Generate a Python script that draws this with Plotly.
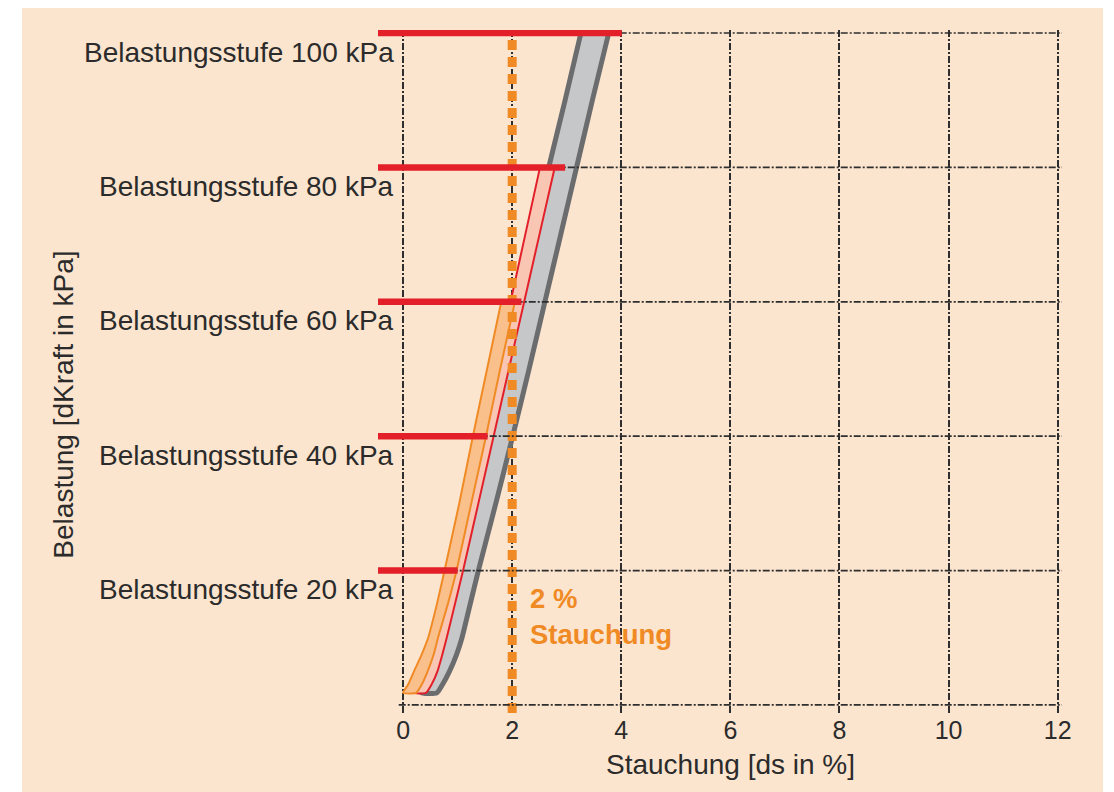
import plotly.graph_objects as go

# ---- data ----
load_levels = [1.8, 3, 5, 7.5, 10, 15, 20, 30, 40, 50, 60, 70, 80, 90, 100]
gray_left  = [0.34, 0.44, 0.56, 0.66, 0.74, 0.86, 0.98, 1.26, 1.55, 1.83, 2.10, 2.39, 2.67, 2.97, 3.26]
gray_right = [0.62, 0.72, 0.85, 0.98, 1.08, 1.23, 1.38, 1.70, 2.01, 2.31, 2.60, 2.89, 3.18, 3.47, 3.77]

red_levels = [1.8, 3, 5, 7.5, 10, 15, 20, 30, 40, 50, 60, 70, 80]
red_left   = [0.18, 0.28, 0.40, 0.50, 0.58, 0.74, 0.88, 1.15, 1.42, 1.70, 1.97, 2.24, 2.51]
red_right  = [0.42, 0.52, 0.63, 0.72, 0.80, 0.95, 1.10, 1.38, 1.66, 1.94, 2.22, 2.50, 2.78]

orange_levels = [1.8, 3, 5, 7.5, 10, 15, 20, 30, 40, 50, 60]
orange_left   = [0.00, 0.09, 0.20, 0.34, 0.46, 0.62, 0.76, 1.03, 1.28, 1.54, 1.80]
orange_right  = [0.24, 0.34, 0.45, 0.56, 0.64, 0.82, 0.98, 1.25, 1.52, 1.78, 2.05]

stufen = [20, 40, 60, 80, 100]                 # Belastungsstufen in kPa
stufen_labels = ["Belastungsstufe 20 kPa", "Belastungsstufe 40 kPa",
                 "Belastungsstufe 60 kPa", "Belastungsstufe 80 kPa",
                 "Belastungsstufe 100 kPa"]
stufen_bar_end = [1.0, 1.55, 2.17, 2.97, 4.01]  # x where the red marker bars end
bar_start = -0.46

x_ticks = [0, 2, 4, 6, 8, 10, 12]
y_grid = [0, 20, 40, 60, 80, 100]
limit_strain = 2.0

PEACH = "#FCE5CF"
GRID = "#2e2e2e"
GRID_DASH = "7px,2px,2px,2px"
TXT = "#2b2b2b"
FONT = "Liberation Sans, Arial, sans-serif"
ORANGE = "#F08A24"
RED = "#E3202A"

fig = go.Figure()

def band(levels, left, right, fill, line, width):
    # filled area
    xs = list(left) + list(reversed(right)) + [left[0]]
    ys = list(levels) + list(reversed(levels)) + [levels[0]]
    fig.add_trace(go.Scatter(x=xs, y=ys, mode="lines", fill="toself",
                             fillcolor=fill, line=dict(width=0),
                             hoverinfo="skip", showlegend=False))
    # outline: left edge down, along the bottom, right edge up (top stays open)
    ox = list(reversed(left)) + list(right)
    oy = list(reversed(levels)) + list(levels)
    fig.add_trace(go.Scatter(x=ox, y=oy, mode="lines",
                             line=dict(color=line, width=width, shape="spline", smoothing=0.5),
                             hoverinfo="skip", showlegend=False))

band(load_levels, gray_left, gray_right, "#C6C7C9", "#6B6C6E", 5)
band(red_levels, red_left, red_right, "#F8C6B3", RED, 2)
band(orange_levels, orange_left, orange_right, "#F9C08C", ORANGE, 2)

# 2 % limit line
fig.add_trace(go.Scatter(x=[limit_strain, limit_strain], y=[-1.2, 99.0], mode="lines",
                         line=dict(color=ORANGE, width=9, dash="10px,7px"),
                         hoverinfo="skip", showlegend=False))

shapes = []
# peach background card
shapes.append(dict(type="rect", xref="paper", yref="paper",
                   x0=-0.5205, x1=1.06, y0=-0.1157, y1=1.035,
                   fillcolor=PEACH, line=dict(width=0), layer="below"))
# horizontal grid
for g in y_grid:
    shapes.append(dict(type="line", xref="x", yref="y", x0=-0.08, x1=12.08, y0=g, y1=g,
                       line=dict(color=GRID, width=1.7, dash=GRID_DASH), layer="above"))
# red Belastungsstufe bars
for s, e in zip(stufen, stufen_bar_end):
    shapes.append(dict(type="line", xref="x", yref="y", x0=bar_start, x1=e, y0=s, y1=s,
                       line=dict(color=RED, width=6.5), layer="above"))

annotations = []
for s, lab in zip(stufen, stufen_labels):
    annotations.append(dict(x=0, y=s, xref="x", yref="y", text=lab, showarrow=False,
                            xanchor="right", yanchor="middle", xshift=-7, yshift=-19,
                            font=dict(size=28, color=TXT, family=FONT)))
annotations.append(dict(x=limit_strain, y=13.2, xref="x", yref="y",
                        text="<b>2 %<br>Stauchung</b>", showarrow=False, align="left",
                        xanchor="left", yanchor="middle", xshift=16,
                        font=dict(size=27.5, color=ORANGE, family=FONT)))
annotations.append(dict(x=6, y=-0.076, xref="x", yref="paper", text="Stauchung [ds in %]",
                        showarrow=False, xanchor="center", yanchor="middle",
                        font=dict(size=28, color=TXT, family=FONT)))
annotations.append(dict(x=-0.46, y=0.452, xref="paper", yref="paper",
                        text="Belastung [dKraft in kPa]", textangle=-90, showarrow=False,
                        xanchor="center", yanchor="middle",
                        font=dict(size=28, color=TXT, family=FONT)))

fig.update_layout(
    width=1106, height=784,
    margin=dict(l=370, r=52, t=22, b=79),
    paper_bgcolor="white", plot_bgcolor="rgba(0,0,0,0)",
    shapes=shapes, annotations=annotations, showlegend=False,
    xaxis=dict(range=[bar_start, 12.08], tickvals=x_ticks, ticktext=[str(t) for t in x_ticks],
               showgrid=True, gridcolor=GRID, gridwidth=1.7, griddash=GRID_DASH,
               zeroline=False, showline=False, ticks="",
               tickfont=dict(size=25, color=TXT, family=FONT)),
    yaxis=dict(range=[-1.2, 100.45], showgrid=False, zeroline=False, showline=False,
               showticklabels=False, ticks=""),
)

fig.write_html("out.html")
